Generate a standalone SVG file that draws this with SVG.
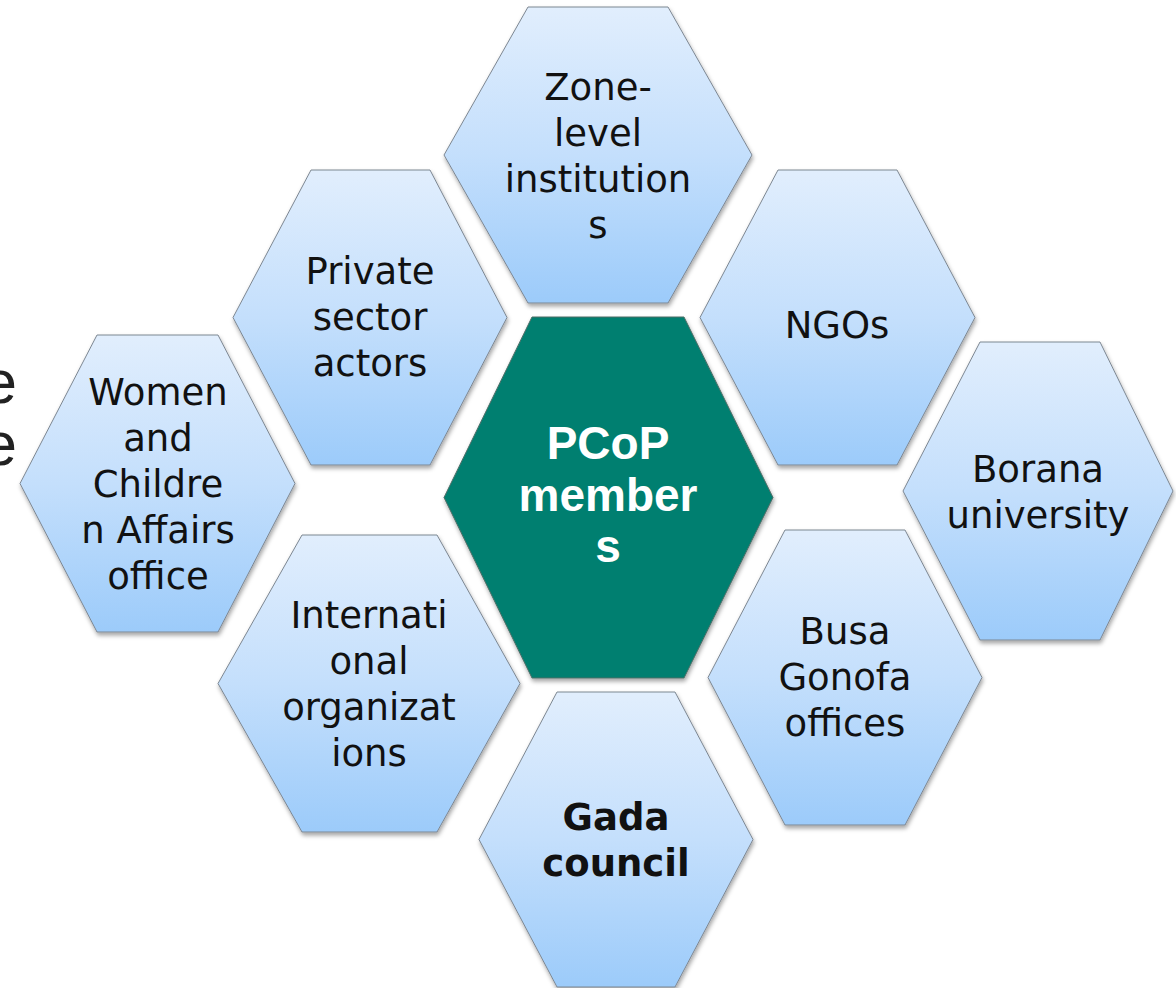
<svg xmlns="http://www.w3.org/2000/svg" width="1176" height="988" viewBox="0 0 1176 988">
  <defs>
    <linearGradient id="blueGrad" x1="0" y1="0" x2="0" y2="1">
      <stop offset="0" stop-color="#e1eefd"/>
      <stop offset="0.5" stop-color="#c4dffc"/>
      <stop offset="1" stop-color="#9ccbfa"/>
    </linearGradient>
    <filter id="shadow" x="-10%" y="-10%" width="120%" height="125%">
      <feDropShadow dx="1" dy="3" stdDeviation="2" flood-color="#000" flood-opacity="0.35"/>
    </filter>
  </defs>
  <style>
    .hex { fill: url(#blueGrad); stroke: #7d8792; stroke-width: 1; filter: url(#shadow); }
    .core { fill: #037f6f; stroke: #4f6f69; stroke-width: 1; filter: url(#shadow); }
    .lbl { font-family: "DejaVu Sans", "Liberation Sans", sans-serif; font-size: 37px; fill: #111; text-anchor: middle; }
    .bold { font-weight: bold; }
    .corelbl { font-family: "Liberation Sans", Arial, sans-serif; font-size: 46px; font-weight: bold; fill: #ffffff; text-anchor: middle; }
    .bg { font-family: "Liberation Sans", Arial, sans-serif; font-size: 62px; fill: #222; text-anchor: end; }
  </style>

  <rect width="1176" height="988" fill="#ffffff"/>

  <g id="background-text">
    <text class="bg" x="17" y="403">e</text>
    <text class="bg" x="17" y="465">e</text>
  </g>

  <g id="connectors"/>

  <g id="node-zone">
    <polygon class="hex" points="444,155 528,7 668,7 752,155 668,303 528,303"/>
    <text class="lbl"><tspan x="598" y="100">Zone-</tspan><tspan x="598" y="146">level</tspan><tspan x="598" y="192">institution</tspan><tspan x="598" y="238">s</tspan></text>
  </g>

  <g id="node-private">
    <polygon class="hex" points="233,317.5 311,170 430,170 507,317.5 430,465 311,465"/>
    <text class="lbl"><tspan x="370" y="284">Private</tspan><tspan x="370" y="330">sector</tspan><tspan x="370" y="376">actors</tspan></text>
  </g>

  <g id="node-ngos">
    <polygon class="hex" points="700,317.5 778,170 897,170 975,317.5 897,465 778,465"/>
    <text class="lbl" x="837" y="338">NGOs</text>
  </g>

  <g id="node-women">
    <polygon class="hex" points="20,483.5 97,335 218,335 295,483.5 218,632 97,632"/>
    <text class="lbl"><tspan x="158" y="405">Women</tspan><tspan x="158" y="451">and</tspan><tspan x="158" y="497">Childre</tspan><tspan x="158" y="543">n Affairs</tspan><tspan x="158" y="589">office</tspan></text>
  </g>

  <g id="node-pcop">
    <polygon class="core" points="444,497.5 532,317 684,317 773,497.5 684,678 532,678"/>
    <text class="corelbl"><tspan x="608" y="459">PCoP</tspan><tspan x="608" y="511">member</tspan><tspan x="608" y="562">s</tspan></text>
  </g>

  <g id="node-borana">
    <polygon class="hex" points="903,491 980,342 1100,342 1173,491 1100,640 980,640"/>
    <text class="lbl"><tspan x="1038" y="482">Borana</tspan><tspan x="1038" y="528">university</tspan></text>
  </g>

  <g id="node-international">
    <polygon class="hex" points="218,683.5 302,535 437,535 520,683.5 437,832 302,832"/>
    <text class="lbl"><tspan x="369" y="628">Internati</tspan><tspan x="369" y="674">onal</tspan><tspan x="369" y="720">organizat</tspan><tspan x="369" y="766">ions</tspan></text>
  </g>

  <g id="node-busa">
    <polygon class="hex" points="708,677.5 785,530 905,530 982,677.5 905,825 785,825"/>
    <text class="lbl"><tspan x="845" y="644">Busa</tspan><tspan x="845" y="690">Gonofa</tspan><tspan x="845" y="736">offices</tspan></text>
  </g>

  <g id="node-gada">
    <polygon class="hex" points="479,839.5 557,692 675,692 753,839.5 675,987 557,987"/>
    <text class="lbl bold"><tspan x="616" y="830">Gada</tspan><tspan x="616" y="876">council</tspan></text>
  </g>
</svg>
